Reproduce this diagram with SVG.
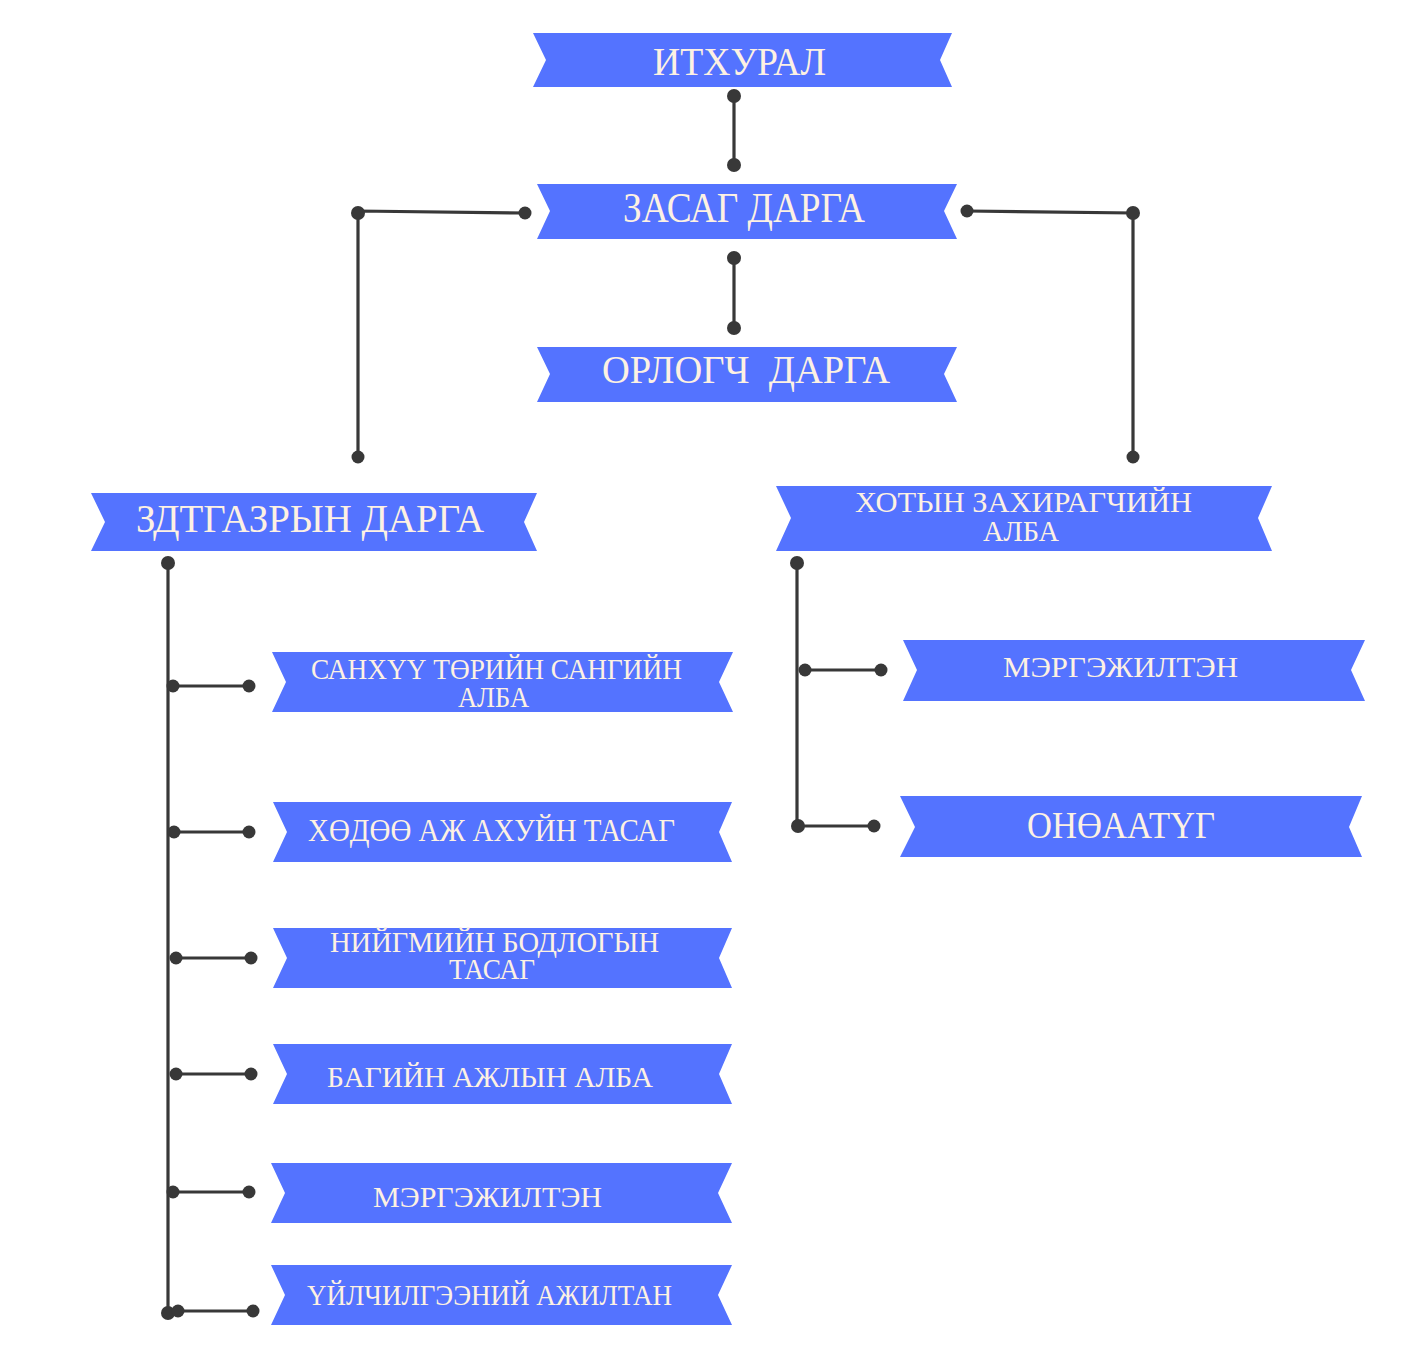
<svg xmlns="http://www.w3.org/2000/svg" width="1414" height="1372" viewBox="0 0 1414 1372">
<style>
.b{fill:#5473FF}
.t{fill:#FDF1E3;font-family:"Liberation Serif","Times New Roman",serif}
.c line,.c polyline{stroke:#383838;stroke-width:3.2;fill:none;stroke-linecap:round}
.c circle{fill:#383838}
</style>
<rect width="1414" height="1372" fill="#FFFFFF"/>
<g id="n1"><polygon class="b" points="533,33 952,33 940,60 952,87 533,87 546,60"/><text class="t" x="653" y="75" font-size="41" textLength="173" lengthAdjust="spacingAndGlyphs">ИТХУРАЛ</text></g>
<g id="n2"><polygon class="b" points="537,184 957,184 944,211 957,239 537,239 550,211"/><text class="t" x="623" y="222" font-size="42" textLength="242" lengthAdjust="spacingAndGlyphs">ЗАСАГ ДАРГА</text></g>
<g id="n3"><polygon class="b" points="537,347 957,347 944,374 957,402 537,402 550,374"/><text class="t" x="602" y="383" font-size="40" textLength="288" lengthAdjust="spacingAndGlyphs" xml:space="preserve">ОРЛОГЧ  ДАРГА</text></g>
<g id="n4"><polygon class="b" points="91,493 537,493 524,522 537,551 91,551 105,522"/><text class="t" x="136" y="532" font-size="41" textLength="348" lengthAdjust="spacingAndGlyphs">ЗДТГАЗРЫН ДАРГА</text></g>
<g id="n5"><polygon class="b" points="776,486 1272,486 1258,518 1272,551 776,551 791,518"/><text class="t" x="855" y="512" font-size="30" textLength="337" lengthAdjust="spacingAndGlyphs">ХОТЫН ЗАХИРАГЧИЙН</text><text class="t" x="983" y="541" font-size="30" textLength="76" lengthAdjust="spacingAndGlyphs">АЛБА</text></g>
<g id="n6"><polygon class="b" points="272,652 733,652 719,682 733,712 272,712 286,682"/><text class="t" x="311" y="679" font-size="29" textLength="371" lengthAdjust="spacingAndGlyphs">САНХҮҮ ТӨРИЙН САНГИЙН</text><text class="t" x="458" y="707" font-size="29" textLength="71" lengthAdjust="spacingAndGlyphs">АЛБА</text></g>
<g id="n7"><polygon class="b" points="273,802 732,802 719,832 732,862 273,862 287,832"/><text class="t" x="308" y="841" font-size="31" textLength="367" lengthAdjust="spacingAndGlyphs">ХӨДӨӨ АЖ АХУЙН ТАСАГ</text></g>
<g id="n8"><polygon class="b" points="273,928 732,928 719,958 732,988 273,988 287,958"/><text class="t" x="330" y="952" font-size="30" textLength="329" lengthAdjust="spacingAndGlyphs">НИЙГМИЙН БОДЛОГЫН</text><text class="t" x="449" y="979" font-size="30" textLength="86" lengthAdjust="spacingAndGlyphs">ТАСАГ</text></g>
<g id="n9"><polygon class="b" points="273,1044 732,1044 719,1074 732,1104 273,1104 287,1074"/><text class="t" x="327" y="1087" font-size="30" textLength="326" lengthAdjust="spacingAndGlyphs">БАГИЙН АЖЛЫН АЛБА</text></g>
<g id="n10"><polygon class="b" points="271,1163 732,1163 718,1193 732,1223 271,1223 285,1193"/><text class="t" x="373" y="1207" font-size="30" textLength="229" lengthAdjust="spacingAndGlyphs">МЭРГЭЖИЛТЭН</text></g>
<g id="n11"><polygon class="b" points="271,1265 732,1265 718,1295 732,1325 271,1325 285,1295"/><text class="t" x="307" y="1305" font-size="29" textLength="365" lengthAdjust="spacingAndGlyphs">ҮЙЛЧИЛГЭЭНИЙ АЖИЛТАН</text></g>
<g id="n12"><polygon class="b" points="903,640 1365,640 1351,670 1365,701 903,701 917,670"/><text class="t" x="1003" y="677" font-size="30" textLength="235" lengthAdjust="spacingAndGlyphs">МЭРГЭЖИЛТЭН</text></g>
<g id="n13"><polygon class="b" points="900,796 1362,796 1349,827 1362,857 900,857 915,827"/><text class="t" x="1027" y="838" font-size="37" textLength="188" lengthAdjust="spacingAndGlyphs">ОНӨААТҮГ</text></g>
<g id="connectors" class="c">
<line x1="734" y1="96" x2="734" y2="165"/><circle cx="734" cy="96" r="7"/><circle cx="734" cy="165" r="7"/>
<line x1="734" y1="258" x2="734" y2="328"/><circle cx="734" cy="258" r="7"/><circle cx="734" cy="328" r="7"/>
<polyline points="525,213 358,211 358,457"/><circle cx="525" cy="213" r="6.5"/><circle cx="358" cy="213" r="7"/><circle cx="358" cy="457" r="6.5"/>
<polyline points="967,211 1133,213 1133,457"/><circle cx="967" cy="211" r="6.5"/><circle cx="1133" cy="213" r="7"/><circle cx="1133" cy="457" r="6.5"/>
<line x1="168" y1="563" x2="168" y2="1313"/><circle cx="168" cy="563" r="7"/><circle cx="168" cy="1313" r="7"/>
<line x1="173" y1="686" x2="249" y2="686"/><circle cx="173" cy="686" r="6.5"/><circle cx="249" cy="686" r="6.5"/>
<line x1="174" y1="832" x2="249" y2="832"/><circle cx="174" cy="832" r="6.5"/><circle cx="249" cy="832" r="6.5"/>
<line x1="176" y1="958" x2="251" y2="958"/><circle cx="176" cy="958" r="6.5"/><circle cx="251" cy="958" r="6.5"/>
<line x1="176" y1="1074" x2="251" y2="1074"/><circle cx="176" cy="1074" r="6.5"/><circle cx="251" cy="1074" r="6.5"/>
<line x1="173" y1="1192" x2="249" y2="1192"/><circle cx="173" cy="1192" r="6.5"/><circle cx="249" cy="1192" r="6.5"/>
<line x1="178" y1="1311" x2="253" y2="1311"/><circle cx="178" cy="1311" r="6.5"/><circle cx="253" cy="1311" r="6.5"/>
<line x1="797" y1="563" x2="797" y2="826"/><circle cx="797" cy="563" r="7"/>
<line x1="805" y1="670" x2="881" y2="670"/><circle cx="805" cy="670" r="6.5"/><circle cx="881" cy="670" r="6.5"/>
<line x1="798" y1="826" x2="874" y2="826"/><circle cx="798" cy="826" r="7"/><circle cx="874" cy="826" r="6.5"/>
</g>
</svg>
